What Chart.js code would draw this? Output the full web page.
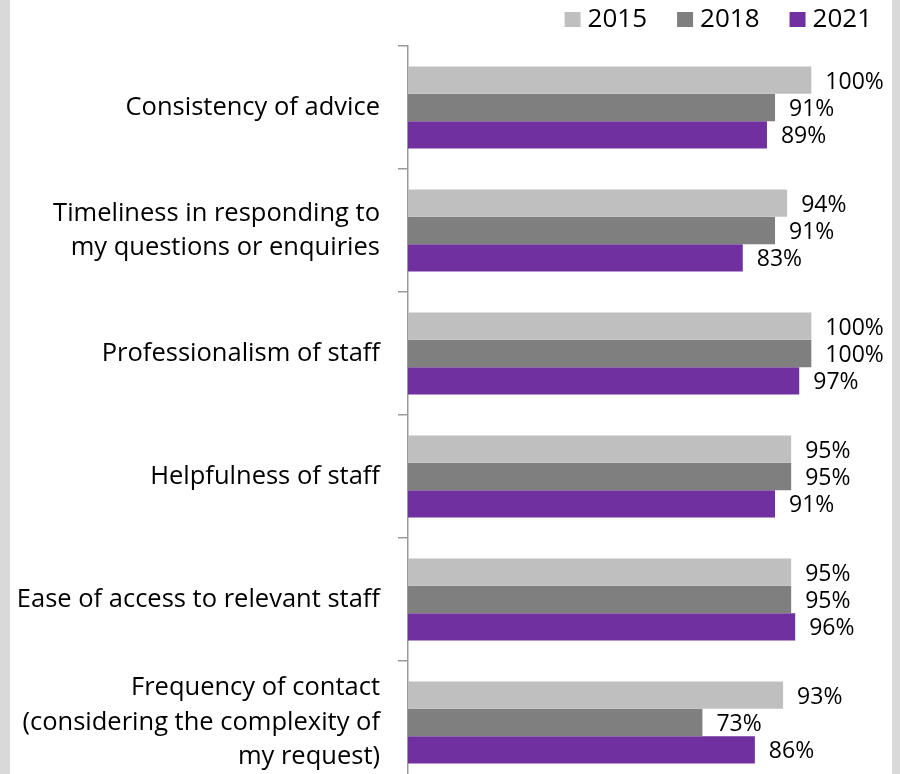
<!DOCTYPE html>
<html><head><meta charset="utf-8">
<script src="https://cdn.jsdelivr.net/npm/chart.js@4"></script>
<style>
html,body{margin:0;padding:0;overflow:hidden;background:#fff;width:900px;height:774px;}
#lb{position:absolute;left:0;top:0;width:10px;height:774px;background:#d9d9d9}
#rb{position:absolute;left:892px;top:0;width:8px;height:774px;background:#d9d9d9}
#cw{position:absolute;left:10px;top:0;width:882px;height:800px;}
</style></head>
<body>
<div id="lb"></div><div id="rb"></div>
<div id="cw"><canvas id="c" width="882" height="800"></canvas></div>
<script>
const categories = [
  "Consistency of advice",
  ["Timeliness in responding to", "my questions or enquiries"],
  "Professionalism of staff",
  "Helpfulness of staff",
  "Ease of access to relevant staff",
  ["Frequency of contact", "(considering the complexity of", "my request)"]
];
const seriesNames = ["2015", "2018", "2021"];
const values2015 = [100, 94, 100, 95, 95, 93];
const values2018 = [91, 91, 100, 95, 95, 73];
const values2021 = [89, 83, 97, 91, 96, 86];
const colors = ["#bfbfbf", "#7f7f7f", "#7030a0"];

const FONT = "'Open Sans', sans-serif";

const valueLabels = {
  id: 'valueLabels',
  afterDatasetsDraw(chart) {
    const ctx = chart.ctx;
    ctx.save();
    ctx.font = "23px " + FONT;
    ctx.fillStyle = "#000";
    ctx.textAlign = "left";
    ctx.textBaseline = "middle";
    chart.data.datasets.forEach((ds, i) => {
      const meta = chart.getDatasetMeta(i);
      meta.data.forEach((el, j) => {
        ctx.fillText(ds.data[j] + "%", el.x + 14, el.y + 2);
      });
    });
    ctx.restore();
  }
};

const topLegend = {
  id: 'topLegend',
  afterDraw(chart) {
    const ctx = chart.ctx;
    ctx.save();
    ctx.font = "26px " + FONT;
    ctx.textBaseline = "middle";
    ctx.textAlign = "left";
    const box = 16, gapText = 7, gapItem = 30;
    let x = 862;
    const items = chart.data.datasets.map(d => ({ t: d.label, c: d.backgroundColor }));
    for (let i = items.length - 1; i >= 0; i--) {
      const w = ctx.measureText(items[i].t).width;
      const tx = x - w;
      ctx.fillStyle = "#000";
      ctx.fillText(items[i].t, tx, 20);
      const bx = tx - gapText - box;
      ctx.fillStyle = items[i].c;
      ctx.fillRect(bx, 12, box, 15);
      x = bx - gapItem;
    }
    ctx.restore();
  }
};

new Chart(document.getElementById('c'), {
  type: 'bar',
  data: {
    labels: categories,
    datasets: [
      { label: seriesNames[0], data: values2015, backgroundColor: colors[0] },
      { label: seriesNames[1], data: values2018, backgroundColor: colors[1] },
      { label: seriesNames[2], data: values2021, backgroundColor: colors[2] }
    ]
  },
  options: {
    indexAxis: 'y',
    responsive: false,
    animation: false,
    devicePixelRatio: 1,
    categoryPercentage: 0.667,
    barPercentage: 1.0,
    layout: { padding: { top: 46, bottom: 16, right: 0, left: 0 } },
    plugins: {
      legend: { display: false },
      tooltip: { enabled: false }
    },
    scales: {
      x: { display: false, min: 0, max: 120 },
      y: {
        afterFit(scale) { scale.width = 398; scale.paddingTop = 0; scale.paddingBottom = 0; },
        border: { display: true, color: '#999', width: 1.5 },
        grid: { display: true, drawOnChartArea: false, color: '#999', tickLength: 10, lineWidth: 1.5, offset: true },
        ticks: {
          font: { family: FONT, size: 25.5, lineHeight: 1.35 },
          color: '#000',
          padding: 18
        }
      }
    }
  },
  plugins: [valueLabels, topLegend]
});
</script>
</body></html>
